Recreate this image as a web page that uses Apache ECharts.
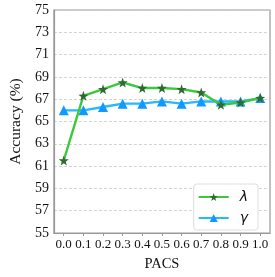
<!DOCTYPE html>
<html><head><meta charset="utf-8">
<script src="https://cdn.jsdelivr.net/npm/echarts@6/dist/echarts.min.js"></script>
<style>html,body{margin:0;padding:0;background:#fff}#c{width:275px;height:277px}</style>
</head><body><div id="c"></div>
<script>
const categories = ['0.0','0.1','0.2','0.3','0.4','0.5','0.6','0.7','0.8','0.9','1.0'];
const lambdaValues = [61.5, 67.3, 67.9, 68.5, 68.0, 68.0, 67.9, 67.6, 66.5, 66.7, 67.1];
const gammaValues  = [66.0, 66.0, 66.3, 66.6, 66.6, 66.8, 66.6, 66.8, 66.8, 66.8, 67.1];
const yTicks = {min: 55, max: 75, step: 2};
const xName = 'PACS';
const yName = 'Accuracy (%)';

const chart = echarts.init(document.getElementById('c'), null, {renderer: 'canvas'});
const serif = 'Liberation Serif';
const spine = {show: true, lineStyle: {color: '#999', width: 1.2}};
chart.setOption({
  animation: false,
  backgroundColor: '#fff',
  grid: {left: 39, right: 5, top: 10, bottom: 38, show: true, borderColor: '#999', borderWidth: 1.2},
  xAxis: {
    type: 'category', data: categories, boundaryGap: true,
    name: xName, nameLocation: 'middle', nameGap: 24,
    nameTextStyle: {fontFamily: serif, fontSize: 14.5, color: '#111'},
    axisLine: spine,
    axisTick: {show: true, alignWithLabel: true, length: 3, lineStyle: {color: '#999'}},
    axisLabel: {fontFamily: serif, fontSize: 13, color: '#111', margin: 5, interval: 0},
    splitLine: {show: false}
  },
  yAxis: {
    type: 'value', min: yTicks.min, max: yTicks.max, interval: yTicks.step,
    name: yName, nameLocation: 'middle', nameGap: 25,
    nameTextStyle: {fontFamily: serif, fontSize: 15.5, color: '#111'},
    axisLine: spine,
    axisTick: {show: false},
    axisLabel: {fontFamily: serif, fontSize: 14, color: '#111', margin: 5},
    splitLine: {show: true, lineStyle: {type: [3, 2], color: '#c8c8c8', width: 0.8}}
  },
  legend: {
    right: 17, top: 184,
    orient: 'vertical',
    backgroundColor: '#fff',
    borderColor: '#ddd', borderWidth: 1, borderRadius: 3,
    padding: [6, 10, 5, 4],
    itemGap: 7,
    itemWidth: 30, itemHeight: 10,
    textStyle: {fontFamily: 'DejaVu Sans', fontStyle: 'italic', fontSize: 14, color: '#111', padding: [0, 0, 0, 6]},
    data: ['λ', 'γ']
  },
  series: [
    {
      name: 'λ', type: 'line', data: lambdaValues,
      symbol: 'path://M0,-10 L2.35,-3.24 L9.51,-3.09 L3.8,1.24 L5.88,8.09 L0,4 L-5.88,8.09 L-3.8,1.24 L-9.51,-3.09 L-2.35,-3.24 Z',
      symbolSize: 10,
      lineStyle: {color: '#3cc83c', width: 2.4},
      itemStyle: {color: '#2f6b2f', borderWidth: 0},
      z: 3
    },
    {
      name: 'γ', type: 'line', data: gammaValues,
      symbol: 'triangle', symbolSize: 10,
      lineStyle: {color: '#22bbff', width: 2.4},
      itemStyle: {color: '#1199ff', borderWidth: 0},
      z: 2
    }
  ]
});
</script></body></html>
